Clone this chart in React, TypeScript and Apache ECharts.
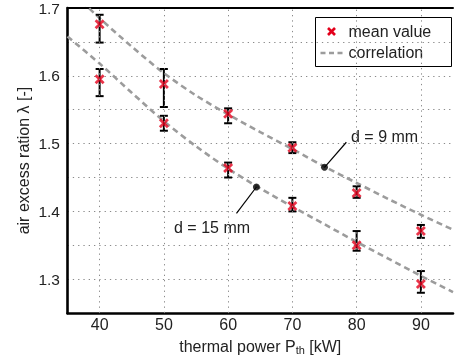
import React, { useEffect, useRef } from "react";
import * as echarts from "echarts";

// thermal power [kW]
const powerKW = [40, 50, 60, 70, 80, 90];
// d = 9 mm
const mean9 = [1.676, 1.588, 1.544, 1.494, 1.427, 1.371];
const low9 = [1.649, 1.554, 1.53, 1.486, 1.42, 1.361];
const high9 = [1.69, 1.61, 1.552, 1.502, 1.437, 1.38];
// d = 15 mm
const mean15 = [1.595, 1.53, 1.464, 1.408, 1.35, 1.293];
const low15 = [1.57, 1.519, 1.45, 1.4, 1.342, 1.28];
const high15 = [1.61, 1.541, 1.472, 1.42, 1.371, 1.312];
// correlation curves
const corrX = [35, 40, 45, 50, 55, 60, 65, 70, 75, 80, 85, 90, 95];
const corr9 = [1.73, 1.685, 1.643, 1.604, 1.571, 1.543, 1.517, 1.492, 1.466, 1.442, 1.418, 1.395, 1.373];
const corr15 = [1.658, 1.618, 1.575, 1.533, 1.496, 1.463, 1.434, 1.407, 1.381, 1.355, 1.33, 1.305, 1.281];
// annotation leaders: [dot, end]
const leader9 = [[75, 1.465], [78.4, 1.502]];
const leader15 = [[64.4, 1.436], [61.3, 1.397]];
const yTicks = [1.3, 1.4, 1.5, 1.6, 1.7];

const FONT = "Liberation Sans, Arial, Helvetica, sans-serif";
const TXT = "#222";
const RED = "#e3001b";
const GRAY = "#9c9c9c";

export default function App() {
  const ref = useRef<HTMLDivElement>(null);
  useEffect(() => {
    if (!ref.current) return;
    const chart = echarts.init(ref.current, undefined, { renderer: "svg" });
    const errRender = (params: any, api: any) => {
      const x = api.value(0);
      const lo = api.coord([x, api.value(1)]);
      const hi = api.coord([x, api.value(2)]);
      const w = 4;
      const st = { stroke: "#000", lineWidth: 2 };
      return {
        type: "group",
        children: [
          { type: "line", shape: { x1: lo[0], y1: lo[1], x2: hi[0], y2: hi[1] }, style: st },
          { type: "line", shape: { x1: lo[0] - w, y1: lo[1], x2: lo[0] + w, y2: lo[1] }, style: st },
          { type: "line", shape: { x1: hi[0] - w, y1: hi[1], x2: hi[0] + w, y2: hi[1] }, style: st },
        ],
      };
    };
    const crossSymbol = "path://M0,0L10,10M10,0L0,10";
    const markerStyle = { color: "rgba(0,0,0,0)", borderColor: RED, borderWidth: 2.8 };
    const dotted = { type: [1.3, 4] as any, color: "#8a8a8a", width: 1 };
    chart.setOption({
      animation: false,
      grid: { left: 67.5, top: 7.5, width: 392, height: 309.6 },
      xAxis: [
        {
          type: "value",
          min: 35,
          max: 95,
          interval: 5,
          axisLine: { lineStyle: { color: "#000", width: 2.6 } },
          axisTick: { show: false },
          splitLine: { show: false },
          axisLabel: {
            margin: 3,
            fontFamily: FONT,
            fontSize: 16,
            color: TXT,
            formatter: (v: number) => (v % 10 === 0 && v >= 40 && v <= 90 ? String(v) : ""),
          },
          name: "thermal power P{s|th} [kW]",
          nameLocation: "middle",
          nameGap: 17,
          nameTextStyle: {
            fontFamily: FONT,
            fontSize: 16,
            color: TXT,
            lineHeight: 18,
            rich: { s: { fontFamily: FONT, fontSize: 11, color: TXT, lineHeight: 4, verticalAlign: "bottom" } },
          },
        },
        {
          type: "value",
          position: "top",
          min: 35,
          max: 95,
          interval: 5,
          axisLine: { show: true, lineStyle: { color: "#000", width: 2 } },
          axisTick: { show: false },
          axisLabel: { show: false },
          splitLine: { show: false },
        },
      ],
      yAxis: {
        type: "value",
        min: 1.25,
        max: 1.7,
        interval: 0.05,
        axisLine: { show: true, lineStyle: { color: "#000", width: 2.6 } },
        axisTick: { show: false },
        splitLine: { lineStyle: dotted },
        axisLabel: {
          margin: 7.5,
          fontFamily: FONT,
          fontSize: 15.5,
          color: TXT,
          formatter: (v: number) => {
            const t = yTicks.find((y) => Math.abs(y - v) < 1e-6);
            return t !== undefined ? t.toFixed(1) : "";
          },
        },
        name: "air excess ration \u03bb [-]",
        nameLocation: "middle",
        nameGap: 36,
        nameMoveOverlap: false,
        nameTextStyle: { fontFamily: FONT, fontSize: 16, color: TXT },
      },
      series: [
        {
          type: "line",
          data: corrX.map((x, i) => [x, corr9[i]]),
          smooth: 0.3,
          showSymbol: false,
          lineStyle: { color: GRAY, width: 2.6, type: [6, 4] },
          z: 2,
          markLine: {
            silent: true,
            symbol: ["none", "none"],
            label: { show: false },
            lineStyle: dotted,
            data: powerKW.map((v) => ({ xAxis: v })),
          },
        },
        {
          type: "line",
          data: corrX.map((x, i) => [x, corr15[i]]),
          smooth: 0.3,
          showSymbol: false,
          lineStyle: { color: GRAY, width: 2.6, type: [6, 4] },
          z: 2,
        },
        {
          type: "custom",
          renderItem: errRender,
          encode: { x: 0, y: [1, 2] },
          data: powerKW.map((x, i) => [x, low9[i], high9[i]]),
          z: 3,
        },
        {
          type: "custom",
          renderItem: errRender,
          encode: { x: 0, y: [1, 2] },
          data: powerKW.map((x, i) => [x, low15[i], high15[i]]),
          z: 3,
        },
        {
          type: "scatter",
          symbol: crossSymbol,
          symbolSize: 8,
          itemStyle: markerStyle,
          data: powerKW.map((x, i) => [x, mean9[i]]),
          z: 4,
        },
        {
          type: "scatter",
          symbol: crossSymbol,
          symbolSize: 8,
          itemStyle: markerStyle,
          data: powerKW.map((x, i) => [x, mean15[i]]),
          z: 4,
        },
        {
          type: "line",
          data: leader9,
          showSymbol: false,
          lineStyle: { color: "#000", width: 1.2 },
          z: 5,
        },
        {
          type: "line",
          data: leader15,
          showSymbol: false,
          lineStyle: { color: "#000", width: 1.2 },
          z: 5,
        },
        {
          type: "scatter",
          symbol: "circle",
          symbolSize: 7,
          itemStyle: { color: "#000" },
          data: [leader9[0], leader15[0]],
          z: 6,
        },
      ],
      graphic: [
        { type: "text", left: 351, top: 128, style: { text: "d = 9 mm", fontFamily: FONT, fontSize: 16, fill: TXT } },
        { type: "text", left: 174, top: 219, style: { text: "d = 15 mm", fontFamily: FONT, fontSize: 16, fill: TXT } },
        {
          type: "group",
          left: 315,
          top: 17,
          children: [
            { type: "rect", shape: { x: 0, y: 0, width: 136, height: 49 }, style: { fill: "#fff", stroke: "#000", lineWidth: 1 } },
            { type: "line", shape: { x1: 12.5, y1: 10.5, x2: 19.5, y2: 17.5 }, style: { stroke: RED, lineWidth: 2.6 } },
            { type: "line", shape: { x1: 19.5, y1: 10.5, x2: 12.5, y2: 17.5 }, style: { stroke: RED, lineWidth: 2.6 } },
            { type: "line", shape: { x1: 5, y1: 35.5, x2: 27, y2: 35.5 }, style: { stroke: GRAY, lineWidth: 2.6, lineDash: [5, 3.5] } },
            { type: "text", x: 33, y: 14, style: { text: "mean value", fontFamily: FONT, fontSize: 16, fill: TXT, verticalAlign: "middle" } },
            { type: "text", x: 33, y: 35, style: { text: "correlation", fontFamily: FONT, fontSize: 16, fill: TXT, verticalAlign: "middle" } },
          ],
        },
      ],
    });
    return () => chart.dispose();
  }, []);
  return <div ref={ref} style={{ position: "fixed", left: 0, top: 0, width: 456, height: 360 }} />;
}
